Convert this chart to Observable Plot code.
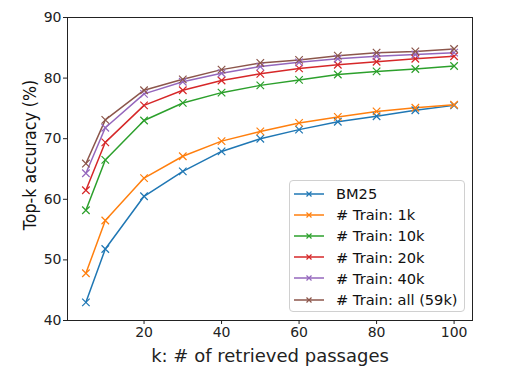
<!DOCTYPE html>
<html><head><meta charset="utf-8">
<script src="https://cdn.jsdelivr.net/npm/d3@7"></script>
<script src="https://cdn.jsdelivr.net/npm/@observablehq/plot@0.6"></script>
<style>
body{margin:0;background:#fff;font-family:"DejaVu Sans",sans-serif;}
#wrap{position:relative;width:511px;height:376px;}
#legend{position:absolute;left:289px;top:180px;width:176px;height:132px;border:1px solid #d0d0d0;border-radius:4px;background:rgba(255,255,255,0.85);box-sizing:border-box;padding-top:2px;}
.row{display:flex;align-items:center;height:21.2px;font-size:14.6px;color:#111;white-space:nowrap;}
.row svg{margin-left:4px;margin-right:12px;flex:none;}
#ylab{position:absolute;left:31px;top:155px;font-size:17.5px;color:#111;white-space:nowrap;line-height:1;}
</style></head>
<body><div id="wrap"><div id="chart"></div><div id="ylab">Top-k accuracy (%)</div><div id="legend"></div></div>
<script>
const k = [5,10,20,30,40,50,60,70,80,90,100];
const bm25 = [43.0,51.8,60.5,64.6,67.9,70.0,71.5,72.8,73.7,74.7,75.5];
const train1k = [47.8,56.5,63.5,67.1,69.6,71.2,72.6,73.6,74.5,75.1,75.6];
const train10k = [58.2,66.5,73.0,75.9,77.6,78.8,79.7,80.6,81.1,81.5,82.0];
const train20k = [61.5,69.4,75.5,78.0,79.6,80.7,81.6,82.2,82.7,83.2,83.6];
const train40k = [64.3,71.8,77.4,79.4,80.8,81.9,82.6,83.2,83.6,83.9,84.2];
const trainAll = [65.9,73.1,78.0,79.8,81.4,82.5,83.0,83.7,84.2,84.4,84.8];
const seriesNames = ["BM25","# Train: 1k","# Train: 10k","# Train: 20k","# Train: 40k","# Train: all (59k)"];
const seriesValues = [bm25,train1k,train10k,train20k,train40k,trainAll];
const colors = ["#1f77b4","#ff7f0e","#2ca02c","#d62728","#9467bd","#8c564b"];
const xTicks = [20,40,60,80,100];
const yTicks = [40,50,60,70,80,90];

const data = seriesNames.flatMap((s,i)=>k.map((kk,j)=>({series:s,k:kk,v:seriesValues[i][j]})));

const chart = Plot.plot({
  width:511,height:376,
  marginLeft:67,marginRight:39,marginTop:17,marginBottom:56,
  style:{fontFamily:"DejaVu Sans",background:"#fff",color:"#222"},
  x:{domain:[0.25,104.75]},
  y:{domain:[40,90]},
  color:{domain:seriesNames,range:colors},
  marks:[
    Plot.frame({stroke:"#222",strokeWidth:1}),
    Plot.axisX({ticks:xTicks,tickSize:4,fontSize:14,tickPadding:3,label:null}),
    Plot.axisX({ticks:[],label:"k: # of retrieved passages",labelAnchor:"center",labelArrow:"none",fontSize:18,labelOffset:41}),
    Plot.axisY({ticks:yTicks,tickSize:4,fontSize:14,tickPadding:2,label:null}),
    Plot.line(data,{x:"k",y:"v",z:"series",stroke:"series",strokeWidth:1.5}),
    Plot.dot(data,{x:"k",y:"v",stroke:"series",symbol:"times",r:3.5,strokeWidth:1.2})
  ]
});
document.getElementById("chart").appendChild(chart);

const yl = document.getElementById("ylab");
const sc = 150 / yl.offsetWidth;
yl.style.transform = `translate(-50%,-50%) rotate(-90deg) scaleX(${sc})`;

const leg = document.getElementById("legend");
seriesNames.forEach((s,i)=>{
  const row = document.createElement("div");
  row.className="row";
  row.innerHTML = `<svg width="30" height="10"><line x1="0" y1="5" x2="30" y2="5" stroke="${colors[i]}" stroke-width="1.5"/><path d="M12.5 2.5L17.5 7.5M17.5 2.5L12.5 7.5" stroke="${colors[i]}" stroke-width="1.2"/></svg><span></span>`;
  row.querySelector("span").textContent = s;
  leg.appendChild(row);
});
</script>
</body></html>
